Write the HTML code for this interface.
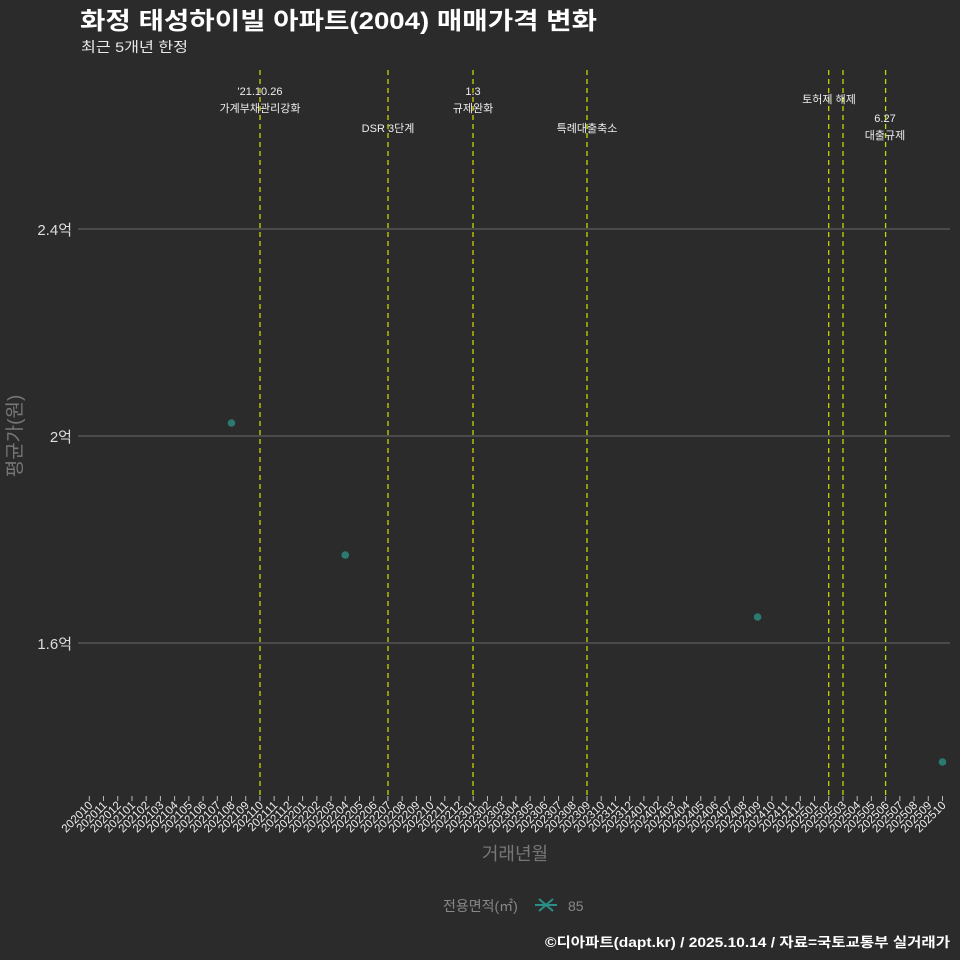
<!DOCTYPE html>
<html><head><meta charset="utf-8"><style>
body{margin:0;background:#2b2b2b;}
svg{display:block;font-family:"Liberation Sans","Noto Sans CJK KR",sans-serif;}
</style></head><body>
<svg width="960" height="960" xmlns="http://www.w3.org/2000/svg">
<rect width="960" height="960" fill="#2b2b2b"/>
<text x="80" y="29" font-size="24" font-weight="bold" fill="#fff" textLength="517" lengthAdjust="spacingAndGlyphs">화정 태성하이빌 아파트(2004) 매매가격 변화</text>
<text x="81" y="52" font-size="14" fill="#e8e8e8" textLength="107" lengthAdjust="spacingAndGlyphs">최근 5개년 한정</text>
<g stroke="#5e5e5e" stroke-width="1.2">
<line x1="78" x2="950" y1="229" y2="229"/>
<line x1="78" x2="950" y1="436" y2="436"/>
<line x1="78" x2="950" y1="643" y2="643"/>
</g>
<g font-size="15" fill="#ddd" text-anchor="end">
<text x="72" y="235">2.4억</text><text x="72" y="442">2억</text><text x="72" y="649">1.6억</text>
</g>
<text transform="translate(21,436) rotate(-90)" font-size="19" fill="#777" text-anchor="middle">평균가(원)</text>
<g stroke="#c8d400" stroke-width="1.3" stroke-dasharray="5,4">
<line x1="260" x2="260" y1="70" y2="796"/>
<line x1="388" x2="388" y1="70" y2="796"/>
<line x1="473" x2="473" y1="70" y2="796"/>
<line x1="587" x2="587" y1="70" y2="796"/>
<line x1="828.7" x2="828.7" y1="70" y2="796"/>
<line x1="843" x2="843" y1="70" y2="796"/>
<line x1="885.6" x2="885.6" y1="70" y2="796"/>
</g>
<g font-size="11" fill="#eee" text-anchor="middle">
<text x="260" y="95">'21.10.26</text><text x="260" y="112">가계부채관리강화</text>
<text x="388" y="132">DSR 3단계</text>
<text x="473" y="95">1.3</text><text x="473" y="112">규제완화</text>
<text x="587" y="132">특례대출축소</text>
<text x="829" y="103">토허제 해제</text>
<text x="885" y="122">6.27</text><text x="885" y="139">대출규제</text>
</g>
<g fill="#2a7a70">
<circle cx="231.5" cy="423" r="3.8"/><circle cx="345.3" cy="555" r="3.8"/>
<circle cx="757.6" cy="617" r="3.8"/><circle cx="942.5" cy="762" r="3.8"/>
</g>
<g id="ticks" stroke="#bbb" stroke-width="1"></g>
<g id="labs" font-size="11.5" fill="#eee" text-anchor="end"></g>
<text x="515" y="860" font-size="18" fill="#777" text-anchor="middle">거래년월</text>
<text x="443" y="911" font-size="14" fill="#888">전용면적(㎡)</text>
<g stroke="#2a8f88" stroke-width="2"><line x1="535" x2="557" y1="905" y2="905"/><line x1="539" x2="553" y1="899" y2="911"/><line x1="539" x2="553" y1="911" y2="899"/></g>
<text x="568" y="911" font-size="14" fill="#888">85</text>
<text x="545" y="947" font-size="13.5" font-weight="bold" fill="#fff" textLength="405" lengthAdjust="spacingAndGlyphs">©디아파트(dapt.kr) / 2025.10.14 / 자료=국토교통부 실거래가</text>
<script>
var t=document.getElementById('ticks'),l=document.getElementById('labs'),ns='http://www.w3.org/2000/svg';
for(var i=0;i<61;i++){var x=89.3+14.22*i;var m=9+i;var y=2020+Math.floor(m/12);var mo=m%12+1;
var s=''+y+(mo<10?'0'+mo:mo);
var ln=document.createElementNS(ns,'line');ln.setAttribute('x1',x);ln.setAttribute('x2',x);ln.setAttribute('y1',796);ln.setAttribute('y2',801);t.appendChild(ln);
var tx=document.createElementNS(ns,'text');tx.setAttribute('transform','translate('+(x+4)+',806) rotate(-45)');tx.textContent=s;l.appendChild(tx);}
</script>
</svg>
</body></html>
